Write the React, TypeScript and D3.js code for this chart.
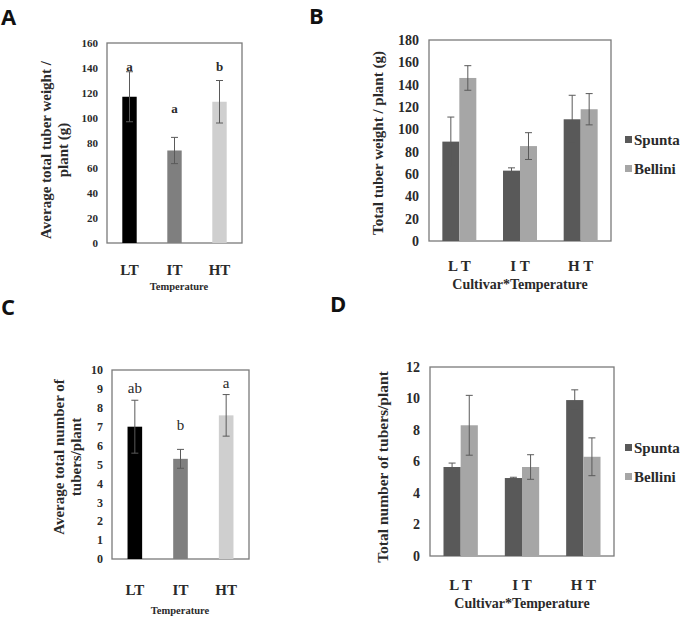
import React from "react";
import * as d3 from "d3";

// ---------- data ----------
const tempCats = ["LT", "IT", "HT"];
const cultivarCats = ["L T", "I T", "H T"];
const cultivars = ["Spunta", "Bellini"];

// Panel A: average total tuber weight / plant (g)
const avgWeight = [117, 74, 113];
const avgWeightErr = [20, 10.5, 17];
const avgWeightLetters = ["a", "a", "b"];
const avgWeightLetterAt = [138, 104, 138];
const avgWeightTicks = [0, 20, 40, 60, 80, 100, 120, 140, 160];

// Panel B: total tuber weight / plant (g) by cultivar
const spuntaWeight = [89, 63, 109];
const spuntaWeightErr = [22, 2.5, 21.5];
const belliniWeight = [146, 85, 118];
const belliniWeightErr = [11, 12, 14];
const weightTicks = [0, 20, 40, 60, 80, 100, 120, 140, 160, 180];

// Panel C: average total number of tubers / plant
const avgCount = [7.0, 5.3, 7.6];
const avgCountErr = [1.4, 0.5, 1.1];
const avgCountLetters = ["ab", "b", "a"];
const avgCountLetterAt = [8.8, 6.8, 9.05];
const avgCountTicks = [0, 1, 2, 3, 4, 5, 6, 7, 8, 9, 10];

// Panel D: total number of tubers / plant by cultivar
const spuntaCount = [5.65, 4.95, 9.9];
const spuntaCountErr = [0.25, 0.05, 0.65];
const belliniCount = [8.3, 5.65, 6.3];
const belliniCountErr = [1.9, 0.78, 1.2];
const countTicks = [0, 2, 4, 6, 8, 10, 12];

// ---------- styles ----------
const SERIF = "'Liberation Serif', 'Times New Roman', serif";
const SANS = "'Open Sans', 'Noto Sans', sans-serif";
const FRAME = "#7a7a7a";
const ERR = "#5a5a5a";
const TXT = "#2a2a2a";
const singleColors = ["#000000", "#7f7f7f", "#cfcfcf"];
const cultivarColors = ["#595959", "#a6a6a6"];

type Box = { x0: number; x1: number; y0: number; y1: number };

function ErrorBar({ cx, yTop, yBot, cap = 7 }: { cx: number; yTop: number; yBot: number; cap?: number }) {
  return (
    <g stroke={ERR} strokeWidth={1}>
      <line x1={cx} x2={cx} y1={yTop} y2={yBot} />
      <line x1={cx - cap / 2} x2={cx + cap / 2} y1={yTop} y2={yTop} />
      <line x1={cx - cap / 2} x2={cx + cap / 2} y1={yBot} y2={yBot} />
    </g>
  );
}

function YTicks({ y, ticks, x, size }: { y: d3.ScaleLinear<number, number>; ticks: number[]; x: number; size: number }) {
  return (
    <g fontFamily={SERIF} fontWeight="bold" fontSize={size} textAnchor="end" fill={TXT}>
      {ticks.map((t) => (
        <text key={t} x={x} y={y(t)} dy="0.35em">
          {t}
        </text>
      ))}
    </g>
  );
}

function SinglePanel(props: {
  box: Box;
  max: number;
  ticks: number[];
  values: number[];
  errs: number[];
  letters: string[];
  letterAt: number[];
  letterSize: number;
  letterWeight: string;
  tickSize: number;
  ylabel: string[];
  ylabelX: number[];
  ylabelY: number;
  ylabelSize: number;
  catY: number;
  xlabelX: number;
  xlabelY: number;
}) {
  const { box } = props;
  const y = d3.scaleLinear().domain([0, props.max]).range([box.y1, box.y0]);
  const x = d3.scaleBand<string>().domain(tempCats).range([box.x0, box.x1]).paddingInner(0.68).paddingOuter(0.34);
  const bw = x.bandwidth();
  return (
    <g>
      <rect x={box.x0} y={box.y0} width={box.x1 - box.x0} height={box.y1 - box.y0} fill="white" stroke={FRAME} strokeWidth={1.3} />
      <YTicks y={y} ticks={props.ticks} x={box.x0 - 9} size={props.tickSize} />
      {tempCats.map((c, i) => (
        <rect key={c} x={x(c)!} y={y(props.values[i])} width={bw} height={y(0) - y(props.values[i])} fill={singleColors[i]} />
      ))}
      {tempCats.map((c, i) => (
        <ErrorBar key={c} cx={x(c)! + bw / 2} yTop={y(props.values[i] + props.errs[i])} yBot={y(props.values[i] - props.errs[i])} />
      ))}
      <g fontFamily={SERIF} fontSize={props.letterSize} fontWeight={props.letterWeight} textAnchor="middle" fill={TXT}>
        {tempCats.map((c, i) => (
          <text key={c} x={x(c)! + bw / 2} y={y(props.letterAt[i])}>
            {props.letters[i]}
          </text>
        ))}
      </g>
      <g fontFamily={SERIF} fontSize={15} fontWeight="bold" textAnchor="middle" fill={TXT}>
        {tempCats.map((c) => (
          <text key={c} x={x(c)! + bw / 2} y={props.catY}>
            {c}
          </text>
        ))}
      </g>
      <text x={props.xlabelX} y={props.xlabelY} fontFamily={SERIF} fontSize={10.5} fontWeight="bold" textAnchor="middle" fill={TXT}>
        Temperature
      </text>
      {props.ylabel.map((l, i) => (
        <text
          key={i}
          transform={`translate(${props.ylabelX[i]},${props.ylabelY}) rotate(-90)`}
          fontFamily={SERIF}
          fontSize={props.ylabelSize}
          fontWeight="bold"
          textAnchor="middle"
          dy="0.35em"
          fill={TXT}
        >
          {l}
        </text>
      ))}
    </g>
  );
}

function GroupPanel(props: {
  box: Box;
  max: number;
  ticks: number[];
  spunta: number[];
  spuntaErr: number[];
  bellini: number[];
  belliniErr: number[];
  ylabel: string;
  ylabelX: number;
  ylabelY: number;
  ylabelSize: number;
  catY: number;
  xlabelY: number;
  legendY: number[];
}) {
  const { box } = props;
  const y = d3.scaleLinear().domain([0, props.max]).range([box.y1, box.y0]);
  const x0 = d3.scaleBand<string>().domain(cultivarCats).range([box.x0, box.x1]).paddingInner(0.44).paddingOuter(0.22);
  const x1 = d3.scaleBand<string>().domain(cultivars).range([0, x0.bandwidth()]);
  const series = [
    { v: props.spunta, e: props.spuntaErr },
    { v: props.bellini, e: props.belliniErr },
  ];
  const bw = x1.bandwidth();
  return (
    <g>
      <rect x={box.x0} y={box.y0} width={box.x1 - box.x0} height={box.y1 - box.y0} fill="white" stroke={FRAME} strokeWidth={1.3} />
      <YTicks y={y} ticks={props.ticks} x={box.x0 - 10} size={14} />
      {cultivarCats.map((c, i) =>
        cultivars.map((k, j) => (
          <rect key={c + k} x={x0(c)! + x1(k)!} y={y(series[j].v[i])} width={bw} height={y(0) - y(series[j].v[i])} fill={cultivarColors[j]} />
        ))
      )}
      {cultivarCats.map((c, i) =>
        cultivars.map((k, j) => (
          <ErrorBar
            key={c + k}
            cx={x0(c)! + x1(k)! + bw / 2}
            yTop={y(series[j].v[i] + series[j].e[i])}
            yBot={y(series[j].v[i] - series[j].e[i])}
          />
        ))
      )}
      <g fontFamily={SERIF} fontSize={15} fontWeight="bold" textAnchor="middle" fill={TXT}>
        {cultivarCats.map((c) => (
          <text key={c} x={x0(c)! + x0.bandwidth() / 2} y={props.catY}>
            {c}
          </text>
        ))}
      </g>
      <text x={(box.x0 + box.x1) / 2} y={props.xlabelY} fontFamily={SERIF} fontSize={14} fontWeight="bold" textAnchor="middle" fill={TXT}>
        Cultivar*Temperature
      </text>
      <text
        transform={`translate(${props.ylabelX},${props.ylabelY}) rotate(-90)`}
        fontFamily={SERIF}
        fontSize={props.ylabelSize}
        fontWeight="bold"
        textAnchor="middle"
        dy="0.35em"
        fill={TXT}
      >
        {props.ylabel}
      </text>
      {cultivars.map((k, j) => (
        <g key={k}>
          <rect x={625} y={props.legendY[j] - 4} width={7} height={7} fill={cultivarColors[j]} />
          <text x={634} y={props.legendY[j]} dy="0.35em" fontFamily={SERIF} fontSize={15} fontWeight="bold" fill={TXT}>
            {k}
          </text>
        </g>
      ))}
    </g>
  );
}

function PanelLetter({ x, y, t }: { x: number; y: number; t: string }) {
  return (
    <text x={x} y={y} fontFamily={SANS} fontWeight="bold" fontSize={22} fill="#111">
      {t}
    </text>
  );
}

export default function App() {
  return (
    <svg width={685} height={619} style={{ position: "absolute", left: 0, top: 0, background: "white" }}>
      <rect width={685} height={619} fill="white" />
      <PanelLetter x={1} y={25} t="A" />
      <PanelLetter x={309} y={24} t="B" />
      <PanelLetter x={1} y={315} t="C" />
      <PanelLetter x={330} y={312} t="D" />

      <SinglePanel
        box={{ x0: 107, x1: 242, y0: 43, y1: 243 }}
        max={160}
        ticks={avgWeightTicks}
        values={avgWeight}
        errs={avgWeightErr}
        letters={avgWeightLetters}
        letterAt={avgWeightLetterAt}
        letterSize={13}
        letterWeight="bold"
        tickSize={11}
        ylabel={["Average total tuber weight /", "plant (g)"]}
        ylabelX={[46, 63]}
        ylabelY={150}
        ylabelSize={15}
        catY={275}
        xlabelX={179}
        xlabelY={290}
      />

      <GroupPanel
        box={{ x0: 429, x1: 611, y0: 40, y1: 241 }}
        max={180}
        ticks={weightTicks}
        spunta={spuntaWeight}
        spuntaErr={spuntaWeightErr}
        bellini={belliniWeight}
        belliniErr={belliniWeightErr}
        ylabel="Total tuber weight / plant (g)"
        ylabelX={378}
        ylabelY={143}
        ylabelSize={15}
        catY={271}
        xlabelY={289}
        legendY={[140, 169]}
      />

      <SinglePanel
        box={{ x0: 112, x1: 249, y0: 370, y1: 559 }}
        max={10}
        ticks={avgCountTicks}
        values={avgCount}
        errs={avgCountErr}
        letters={avgCountLetters}
        letterAt={avgCountLetterAt}
        letterSize={15}
        letterWeight="normal"
        tickSize={12}
        ylabel={["Average total number of", "tubers/plant"]}
        ylabelX={[59, 76]}
        ylabelY={457}
        ylabelSize={15}
        catY={595}
        xlabelX={180}
        xlabelY={614}
      />

      <GroupPanel
        box={{ x0: 430, x1: 614, y0: 367, y1: 556 }}
        max={12}
        ticks={countTicks}
        spunta={spuntaCount}
        spuntaErr={spuntaCountErr}
        bellini={belliniCount}
        belliniErr={belliniCountErr}
        ylabel="Total number of tubers/plant"
        ylabelX={383}
        ylabelY={467}
        ylabelSize={15.5}
        catY={590}
        xlabelY={608}
        legendY={[448, 477]}
      />
    </svg>
  );
}
